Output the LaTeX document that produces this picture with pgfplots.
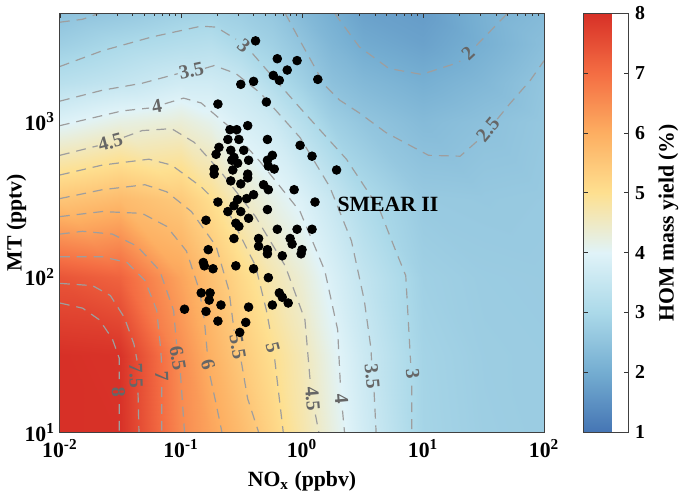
\documentclass[border=0pt]{standalone}
\usepackage{pgfplots}
\pgfplotsset{compat=1.18}
\usepackage{pgfplotstable}
\usepackage{fontspec}
\setmainfont{Liberation Serif}

% HOM mass yield (%) on a grid: NOx (ppbv), MT (pptv)
\pgfplotstableread{
nox mt v
0.01 10 8.0
0.0316 10 7.98
0.1 10 6.56
0.178 10 6.14
0.316 10 5.73
0.562 10 5.24
1 10 4.74
1.78 10 4.23
3.16 10 3.72
10 10 2.9
31.6 10 2.75
100 10 2.7
0.01 31.6 8.0
0.0316 31.6 7.95
0.1 31.6 6.5
0.178 31.6 5.93
0.316 31.6 5.45
0.562 31.6 5.02
1 31.6 4.62
1.78 31.6 4.1
3.16 31.6 3.62
10 31.6 2.88
31.6 31.6 2.73
100 31.6 2.7
0.01 100 7.39
0.0316 100 7.16
0.1 100 6.14
0.178 100 5.64
0.316 100 5.15
0.562 100 4.69
1 100 4.33
1.78 100 3.87
3.16 100 3.44
10 100 2.8
31.6 100 2.7
100 100 2.68
0.01 316 5.53
0.0316 316 5.74
0.1 316 5.44
0.178 316 5.03
0.316 316 4.51
0.562 316 4.18
1 316 3.9
1.78 316 3.52
3.16 316 3.08
10 316 2.65
31.6 316 2.62
100 316 2.65
0.01 1000 3.94
0.0316 1000 4.21
0.1 1000 4.33
0.178 1000 4.12
0.316 1000 3.85
0.562 1000 3.63
1 1000 3.21
1.78 1000 2.79
3.16 1000 2.56
10 1000 2.31
31.6 1000 2.45
100 1000 2.6
0.01 1778 3.26
0.0316 1778 3.46
0.1 1778 3.71
0.178 1778 3.7
0.316 1778 3.55
0.562 1778 3.15
1 1778 2.81
1.78 1778 2.45
3.16 1778 2.27
10 1778 2.06
31.6 1778 2.25
100 1778 2.55
0.01 3162 2.76
0.0316 3162 3.0
0.1 3162 3.17
0.178 3162 3.23
0.316 3162 3.0
0.562 3162 2.8
1 3162 2.52
1.78 3162 2.2
3.16 3162 1.97
10 3162 1.8
31.6 3162 2.07
100 3162 2.4
0.01 5000 2.45
0.0316 5000 2.6
0.1 5000 2.8
0.178 5000 2.85
0.316 5000 2.75
0.562 5000 2.6
1 5000 2.3
1.78 5000 2.05
3.16 5000 1.8
10 5000 1.7
31.6 5000 2.1
100 5000 2.3
}\yieldgrid

% SMEAR II observations
\pgfplotstableread{
nox mt
0.413 3320
0.625 2547
0.910 2477
0.755 2153
0.579 1988
0.649 1849
0.312 1742
0.398 1820
1.35 1875
0.202 1300
0.508 1340
0.254 889
0.289 889
0.356 944
0.244 769
0.301 769
0.206 684
0.518 769
0.964 705
1.21 600
0.195 617
0.258 655
0.274 590
0.330 655
0.263 565
0.362 565
0.294 541
0.188 496
0.268 489
0.569 608
0.518 565
0.527 518
0.590 496
1.93 489
0.188 460
0.356 460
0.356 435
0.258 416
0.312 398
0.481 393
0.527 365
0.861 365
1.28 304
0.202 304
0.294 315
0.349 320
0.398 339
0.274 288
0.244 264
0.312 264
0.518 272
0.362 239
0.161 232
0.284 222
0.301 212
0.625 203
0.910 203
1.21 203
0.274 177
0.438 177
0.798 177
0.828 163
0.168 150
0.518 150
1.0 150
0.438 158
0.518 141
0.687 137
0.982 141
0.284 118
0.398 113
0.153 124
0.156 118
0.184 113
0.527 99
0.649 79
0.687 74
0.769 68
0.569 66
0.147 79
0.174 79
0.171 71
0.214 66
0.161 60
0.107 62
0.362 64
0.202 52
0.343 51
0.306 44
}\smear

\pgfplotsset{
  cont/.style={black!38, dash pattern=on 5pt off 3.5pt, line width=0.6pt,
    unbounded coords=jump, forget plot},
}
\tikzset{
  clab/.style={text=black!60, inner sep=0pt,
    font=\bfseries\fontsize{10}{10}\selectfont},
}

\begin{document}
\begin{tikzpicture}
\begin{axis}[
  width=245pt, height=212pt, scale only axis,
  xmode=log, ymode=log,
  xmin=0.01, xmax=100, ymin=10, ymax=5000,
  enlargelimits=false,
  axis on top,
  xtick={0.01,0.1,1,10,100},
  xticklabels={10\textsuperscript{-2},10\textsuperscript{-1},10\textsuperscript{0},10\textsuperscript{1},10\textsuperscript{2}},
  ytick={10,100,1000},
  yticklabels={10\textsuperscript{1},10\textsuperscript{2},10\textsuperscript{3}},
  xtick pos=upper, xticklabel pos=lower,
  yminorticks=false,
  ytick style={draw=none},
  tick align=inside,
  major tick length=2.5pt, minor tick length=1.6pt,
  tick style={black!80, line width=0.4pt},
  axis line style={black!75, line width=0.5pt},
  tick label style={font=\bfseries\fontsize{11}{13}\selectfont},
  yticklabel style={xshift=1pt},
  label style={font=\bfseries\fontsize{11}{13}\selectfont},
  xlabel={NO\textsubscript{x} (ppbv)},
  ylabel={MT (pptv)},
  ylabel style={at={(axis description cs:-0.055,0.5)}, anchor=south},
  colormap={rdylbu}{rgb255(0cm)=(69,117,180); rgb255(1cm)=(116,173,209);
    rgb255(2cm)=(171,217,233); rgb255(3cm)=(224,243,248);
    rgb255(4cm)=(254,224,144); rgb255(5cm)=(253,174,97);
    rgb255(6cm)=(244,109,67); rgb255(7cm)=(215,48,39)},
  point meta min=1, point meta max=8,
  colorbar,
  colorbar style={
    at={(parent axis.north east)}, anchor=north west, xshift=11.5pt,
    width=22.5pt,
    ytick={1,2,3,4,5,6,7,8},
    yticklabels={1,2,3,4,5,6,7,8},
    yticklabel style={font=\bfseries\fontsize{10}{12}\selectfont},
    ylabel={HOM mass yield (\%)},
    ylabel style={font=\bfseries\fontsize{11}{13}\selectfont},
    axis line style={black!75, line width=0.5pt},
    major tick length=2pt,
  },
]

\addplot[surf, shader=interp, mesh/cols=12, point meta=explicit]
  table[x=nox, y=mt, meta=v] {\yieldgrid};

% contour lines, broken where the labels sit
\addplot[cont] coordinates {(0.01,68) (0.0154,63) (0.0212,53) (0.0271,40) (0.0309,30) (0.0309,22) (nan,nan) (0.0309,15.2) (0.0309,10)};
\addplot[cont] coordinates {(0.01,91) (0.0186,88) (0.0261,76) (0.034,55) (0.0409,37) (0.0434,29) (nan,nan) (0.0442,18) (0.045,10)};
\addplot[cont] coordinates {(0.01,135) (0.0224,135) (0.0359,124) (0.0504,95) (0.0631,61) (0.0681,34) (0.0693,27) (nan,nan) (0.0693,19.5) (0.0693,10)};
\addplot[cont] coordinates {(0.01,189) (0.0154,197) (0.0271,189) (0.0434,158) (0.0667,110) (0.0869,61) (0.092,37) (nan,nan) (0.099,24) (0.107,10)};
\addplot[cont] coordinates {(0.01,245) (0.0224,264) (0.0477,257) (0.0762,212) (0.111,147) (0.142,82) (0.156,53) (0.165,32.5) (nan,nan) (0.174,23) (0.195,15.3) (0.218,10)};
\addplot[cont] coordinates {(0.01,320) (0.0224,365) (0.0504,393) (0.0762,354) (0.122,264) (0.195,158) (0.249,82) (0.275,45) (nan,nan) (0.315,28.5) (0.356,16.4) (0.438,10)};
\addplot[cont] coordinates {(0.01,454) (0.0224,526) (0.0543,574) (0.0836,526) (0.147,381) (0.258,245) (0.413,118) (0.508,61) (0.555,42) (nan,nan) (0.595,29.5) (0.700,10)};
\addplot[cont] coordinates {(0.01,608) (0.0205,700) (nan,nan) (0.0338,795) (0.0477,877) (0.0836,903) (0.129,736) (0.214,474) (0.413,245) (0.726,118) (1.057,53) (1.17,21) (nan,nan) (1.29,13) (1.377,10)};
\addplot[cont] coordinates {(0.01,944) (0.0327,1175) (0.0545,1225) (nan,nan) (0.0735,1305) (0.105,1420) (0.147,1321) (0.244,944) (0.454,549) (0.964,264) (1.542,110) (1.968,46) (2.08,19.5) (nan,nan) (2.16,13.8) (2.244,10)};
\addplot[cont] coordinates {(0.01,1358) (0.0224,1596) (0.0477,1770) (0.094,2040) (nan,nan) (0.158,2210) (0.188,2301) (0.284,2046) (0.454,1528) (0.964,791) (1.694,381) (2.559,171) (3.266,71) (3.724,34) (3.75,29) (nan,nan) (3.94,18.2) (4.093,10)};
\addplot[cont] coordinates {(0.01,2270) (0.0224,2866) (0.0574,3516) (0.147,4130) (0.195,4070) (0.285,3400) (nan,nan) (0.39,2750) (0.499,2203) (0.964,1227) (2.328,574) (4.335,276) (5.741,158) (7.194,102) (7.621,46) (7.9,28) (nan,nan) (8.05,20) (8.054,10)};
\addplot[cont] coordinates {(0.01,4378) (0.0154,4573) (0.0212,5000)};
\addplot[cont] coordinates {(0.726,5000) (0.964,3319) (1.542,1718) (2.042,1380) (2.972,1140) (4.943,851) (11.09,608) (20.23,600) (23.5,664) (28.5,760) (nan,nan) (41,1040) (52.72,1321) (76.91,1849) (100,2477)};
\addplot[cont] coordinates {(1.858,5000) (2.972,3040) (5.224,2203) (9.727,2018) (18.41,2371) (20.3,2460) (nan,nan) (27.6,3100) (49.89,5000)};

\node[clab, rotate=43] at (axis cs:23.5,2742) {2};
\node[clab, rotate=50] at (axis cs:34.3,889) {2.5};
\node[clab, rotate=-40] at (axis cs:0.33,3083) {3};
\node[clab, rotate=12] at (axis cs:0.122,2138) {3.5};
\node[clab, rotate=10] at (axis cs:0.0631,1265) {4};
\node[clab, rotate=15] at (axis cs:0.0261,736) {4.5};
\node[clab, rotate=-85] at (axis cs:8.2,23.7) {3};
\node[clab, rotate=-85] at (axis cs:3.8,23) {3.5};
\node[clab, rotate=-85] at (axis cs:2.12,16.4) {4};
\node[clab, rotate=-85] at (axis cs:1.22,16.4) {4.5};
\node[clab, rotate=-75] at (axis cs:0.575,35.2) {5};
\node[clab, rotate=-80] at (axis cs:0.294,35.5) {5.5};
\node[clab, rotate=-75] at (axis cs:0.168,27.4) {6};
\node[clab, rotate=-80] at (axis cs:0.094,30) {6.5};
\node[clab, rotate=-88] at (axis cs:0.0693,23) {7};
\node[clab, rotate=-88] at (axis cs:0.0425,23) {7.5};
\node[clab, rotate=-88] at (axis cs:0.0305,18.2) {8};

\addplot[only marks, mark=*, mark size=2.2pt, black] table[x=nox, y=mt] {\smear};

\node[font=\bfseries\fontsize{11}{13}\selectfont, text=black] at (axis cs:5.13,293) {SMEAR II};

\end{axis}
\end{tikzpicture}
\end{document}
